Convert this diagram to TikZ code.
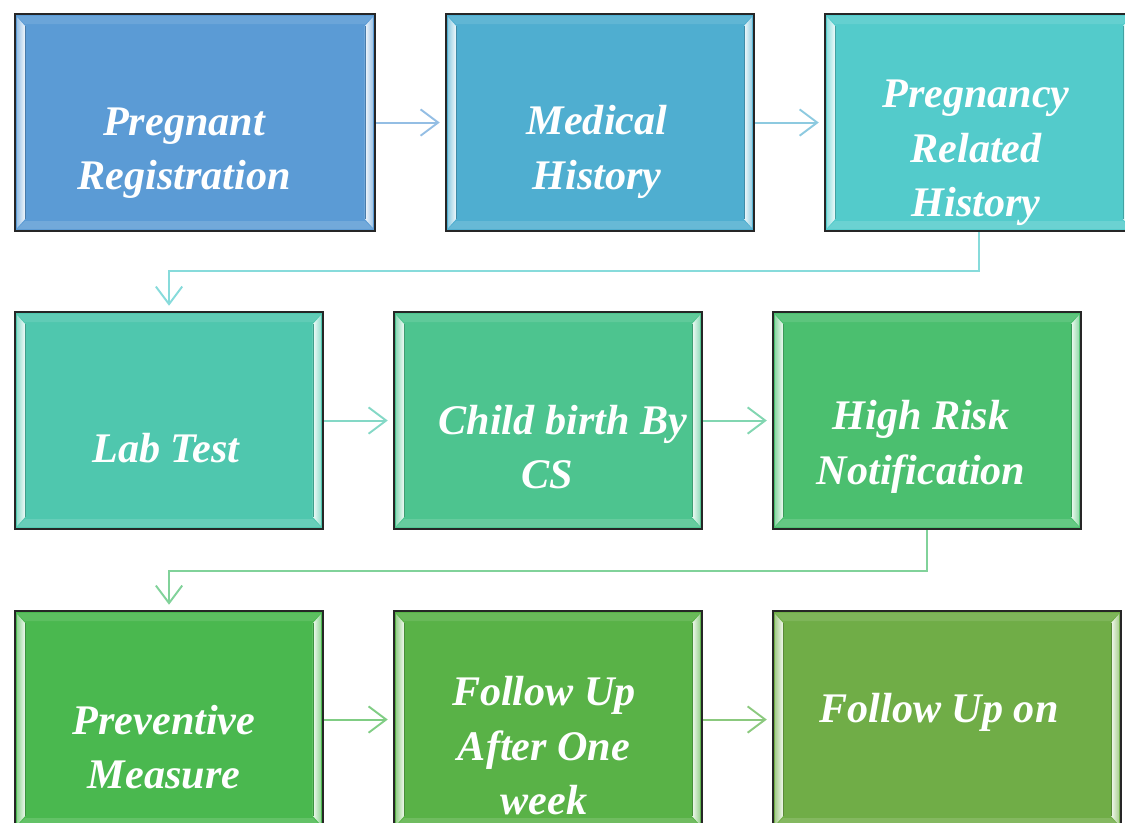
\documentclass[tikz,border=0pt]{standalone}
\usepackage{fontspec}
\setmainfont{Liberation Serif}
\usetikzlibrary{arrows.meta, positioning}

\definecolor{c1}{HTML}{5B9BD5}
\definecolor{c2}{HTML}{4FAED0}
\definecolor{c3}{HTML}{53CBCB}
\definecolor{c4}{HTML}{4FC7AE}
\definecolor{c5}{HTML}{4DC48F}
\definecolor{c6}{HTML}{4BBF6F}
\definecolor{c7}{HTML}{4AB84F}
\definecolor{c8}{HTML}{59B247}
\definecolor{c9}{HTML}{70AD47}

\begin{document}
\begin{tikzpicture}[
    x=0.02cm, y=-0.02cm,
    node distance=1.38cm,
    box/.style={draw=black!85, line width=1.2pt, fill=#1,
        minimum width=6.16cm, minimum height=4.34cm,
        path picture={
            \coordinate (bnw) at (path picture bounding box.north west);
            \coordinate (bne) at (path picture bounding box.north east);
            \coordinate (bsw) at (path picture bounding box.south west);
            \coordinate (bse) at (path picture bounding box.south east);
            % top and bottom bevel
            \fill[white, opacity=.1] ([shift={(2,2)}]bnw) -- ([shift={(-2,2)}]bne)
                -- ([shift={(-10,10)}]bne) -- ([shift={(10,10)}]bnw) -- cycle;
            \fill[white, opacity=.14] ([shift={(2,-2)}]bsw) -- ([shift={(-2,-2)}]bse)
                -- ([shift={(-10,-10)}]bse) -- ([shift={(10,-10)}]bsw) -- cycle;
            % left and right bevel
            \shade[left color=#1!60!white, right color=#1!8!white]
                ([shift={(2,3)}]bnw) -- ([shift={(10,12)}]bnw)
                -- ([shift={(10,-12)}]bsw) -- ([shift={(2,-3)}]bsw) -- cycle;
            \shade[left color=#1!8!white, right color=#1!60!white]
                ([shift={(-2,3)}]bne) -- ([shift={(-10,12)}]bne)
                -- ([shift={(-10,-12)}]bse) -- ([shift={(-2,-3)}]bse) -- cycle;
            \draw[#1!80!black, line width=.4pt] ([shift={(10,12)}]bnw) -- ([shift={(10,-12)}]bsw);
            \draw[#1!80!black, line width=.4pt] ([shift={(-10,12)}]bne) -- ([shift={(-10,-12)}]bse);
        }},
    txt/.style={text=white, align=center, inner sep=0pt,
        font=\bfseries\itshape\fontsize{24}{31}\selectfont},
    arr/.style={-{Straight Barb[length=10pt,width=15pt]}, line width=1.1pt, draw=#1, shorten >=3pt},
]
    \useasboundingbox (0,0) rectangle (1125,822);
    \clip (0,0) rectangle (1125,822);

    % row 1
    \node[box=c1, minimum width=7.2cm, anchor=north west] (reg) at (14,13) {};
    \node[box=c2, right=of reg] (med) {};
    \node[box=c3, right=of med] (prh) {};

    % row 2
    \node[box=c4, anchor=north west] (lab) at (14,311) {};
    \node[box=c5, right=of lab] (cs) {};
    \node[box=c6, right=of cs] (hrn) {};

    % row 3
    \node[box=c7, anchor=north west] (prev) at (14,610) {};
    \node[box=c8, right=of prev] (fu1) {};
    \node[box=c9, minimum width=6.96cm, right=of fu1] (fu2) {};

    % labels
    \node[txt] (reg-t) at (184,153) {Pregnant\\Registration};
    \node[txt] (med-t) at (597,152) {Medical\\History};
    \node[txt] (prh-t) at (976,153) {Pregnancy\\Related\\History};
    \node[txt] (lab-t) at (166,448) {Lab Test};
    \node[txt] (cs-t) at (547,447) {\hspace*{18pt}Child birth By\\CS};
    \node[txt] (hrn-t) at (921,447) {High Risk\\Notification};
    \node[txt] (prev-t) at (164,747) {Preventive\\Measure};
    \node[txt] (fu1-t) at (544,746) {Follow Up\\After One\\week};
    \node[txt] (fu2-t) at (939,712) {Follow Up on};

    % connectors
    \draw[arr=c1!65!white] (reg) -- (med);
    \draw[arr=c2!65!white] (med) -- (prh);
    \draw[arr=c3!70!white] (prh.south) -- ++(0,39) -| (lab.north);
    \draw[arr=c4!70!white] (lab) -- (cs);
    \draw[arr=c5!70!white] (cs) -- (hrn);
    \draw[arr=c6!70!white] (hrn.south) -- ++(0,41) -| (prev.north);
    \draw[arr=c7!70!white] (prev) -- (fu1);
    \draw[arr=c8!70!white] (fu1) -- (fu2);
\end{tikzpicture}
\end{document}
